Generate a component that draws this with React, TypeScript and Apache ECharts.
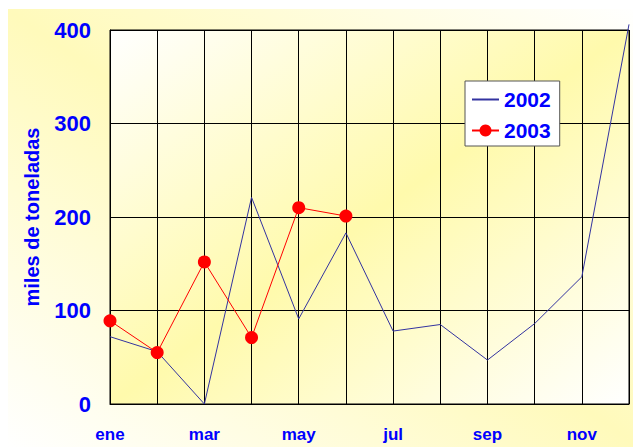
import React, { useEffect, useRef } from "react";
import * as echarts from "echarts";

const months = ["ene", "feb", "mar", "abr", "may", "jun", "jul", "ago", "sep", "oct", "nov", "dic"];
const values2002 = [72, 56, 0, 221, 91, 183, 78, 85, 47, 86, 136, 406];
const values2003 = [89, 55, 152, 71, 210, 201];
const yTicks = [0, 100, 200, 300, 400];

const FONT = "'Liberation Sans', Arial, sans-serif";
const BLUE = "#0000ff";

export default function App() {
  const ref = useRef<HTMLDivElement>(null);
  useEffect(() => {
    if (!ref.current) return;
    const chart = echarts.init(ref.current, null, { renderer: "svg" });
    chart.setOption({
      animation: false,
      backgroundColor: {
        type: "linear",
        x: 0, y: 1, x2: 1, y2: 0,
        colorStops: [
          { offset: 0, color: "#ffffff" },
          { offset: 0.5, color: "#fffabb" },
          { offset: 1, color: "#ffffff" },
        ],
      },
      grid: {
        left: 104,
        top: 21,
        right: 12,
        bottom: 43,
        show: true,
        borderColor: "#000",
        borderWidth: 1,
        backgroundColor: {
          type: "linear",
          x: 0, y: 0, x2: 1, y2: 1,
          colorStops: [
            { offset: 0, color: "#ffffff" },
            { offset: 0.5, color: "#fffaac" },
            { offset: 1, color: "#ffffff" },
          ],
        },
      },
      legend: {
        left: 459,
        top: 72,
        orient: "vertical",
        backgroundColor: "#ffffff",
        borderColor: "#555",
        borderWidth: 1,
        padding: [8, 9, 5, 6],
        itemGap: 10,
        itemWidth: 27,
        itemHeight: 15,
        textStyle: { color: BLUE, fontWeight: "bold", fontSize: 21, fontFamily: FONT },
        data: [
          { name: "2002", itemStyle: { opacity: 0 } },
          { name: "2003" },
        ],
      },
      xAxis: {
        type: "category",
        data: months,
        boundaryGap: false,
        axisLine: { lineStyle: { color: "#000", width: 1 } },
        axisTick: { show: false },
        axisLabel: {
          interval: 1,
          color: BLUE,
          fontWeight: "bold",
          fontSize: 17,
          fontFamily: FONT,
          margin: 22,
        },
        splitLine: { show: true, interval: 0, lineStyle: { color: "#000", width: 1 } },
      },
      yAxis: {
        type: "value",
        min: yTicks[0],
        max: yTicks[yTicks.length - 1],
        interval: 100,
        name: "miles de toneladas",
        nameLocation: "middle",
        nameGap: 68,
        nameTextStyle: { color: BLUE, fontWeight: "bold", fontSize: 20, fontFamily: FONT },
        axisLine: { show: true, lineStyle: { color: "#000", width: 1 } },
        axisTick: { show: false },
        axisLabel: {
          color: BLUE,
          fontWeight: "bold",
          fontSize: 22,
          fontFamily: FONT,
          margin: 19,
        },
        splitLine: { show: true, lineStyle: { color: "#000", width: 1 } },
      },
      series: [
        {
          name: "2002",
          type: "line",
          data: values2002,
          symbol: "none",
          clip: false,
          itemStyle: { color: "#3333a0" },
          lineStyle: { color: "#3333a0", width: 1 },
        },
        {
          name: "2003",
          type: "line",
          data: values2003,
          symbol: "circle",
          symbolSize: 13,
          clip: false,
          itemStyle: { color: "#ff0000" },
          lineStyle: { color: "#ff0000", width: 1 },
        },
      ],
    });
    return () => chart.dispose();
  }, []);
  return <div ref={ref} style={{ width: 635, height: 438, marginLeft: -2, marginTop: 1 }} />;
}
